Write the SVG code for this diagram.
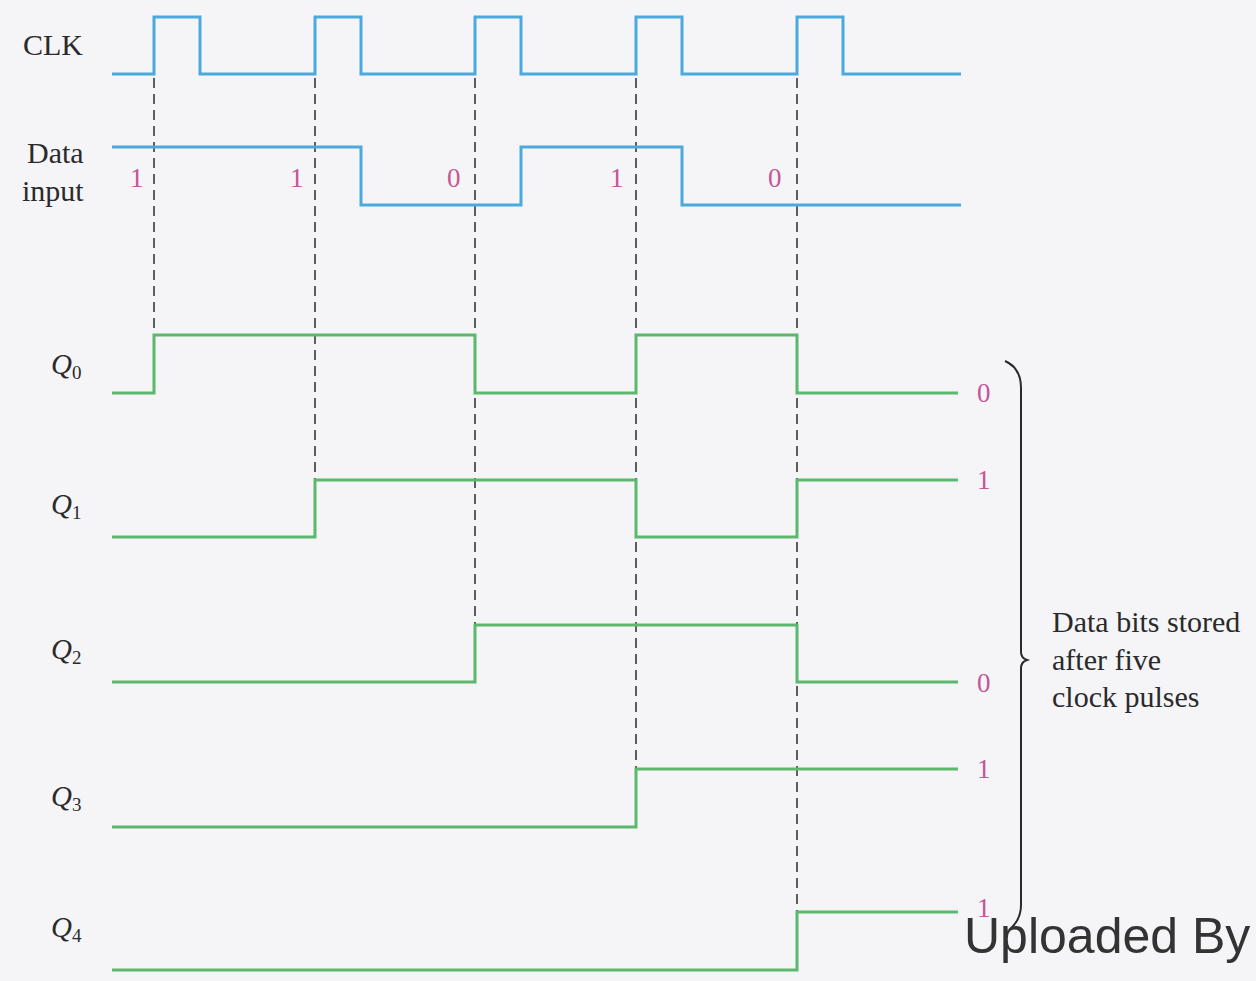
<svg xmlns="http://www.w3.org/2000/svg" width="1256" height="981" viewBox="0 0 1256 981">
<style>
.bg{fill:#f5f5f8}
.blue{fill:none;stroke:#4ba9dc;stroke-width:3;stroke-linejoin:miter}
.green{fill:none;stroke:#5cb86c;stroke-width:3;stroke-linejoin:miter}
.dash{fill:none;stroke:#3a3a3a;stroke-width:1.6;stroke-dasharray:10 6}
.lbl{font-family:"Liberation Serif",serif;font-size:30px;fill:#2a2a2a}
.q{font-family:"Liberation Serif",serif;font-size:29px;font-style:italic;fill:#2a2a2a}
.sub{font-size:19px;font-style:normal}
.bit{font-family:"Liberation Serif",serif;font-size:27px;fill:#c4569a}
.brace{fill:none;stroke:#2a2a2a;stroke-width:2}
.up{font-family:"Liberation Sans",sans-serif;font-size:50px;fill:#333333}
</style>
<rect class="bg" x="0" y="0" width="1256" height="981"/>
<g id="connectors">
<line class="dash" x1="154" y1="78" x2="154" y2="335"/>
<line class="dash" x1="315" y1="78" x2="315" y2="480"/>
<line class="dash" x1="475" y1="78" x2="475" y2="625"/>
<line class="dash" x1="636" y1="78" x2="636" y2="769"/>
<line class="dash" x1="797" y1="78" x2="797" y2="912"/>
</g>
<g id="clk">
<text class="lbl" x="23" y="55">CLK</text>
<path class="blue" d="M112 74H154V17H200V74H315V17H361V74H475V17H521V74H636V17H682V74H797V17H843V74H961"/>
</g>
<g id="data">
<text class="lbl" x="27" y="163">Data</text>
<text class="lbl" x="22" y="201">input</text>
<path class="blue" d="M112 147H361V205H521V147H682V205H961"/>
<text class="bit" x="130" y="187">1</text>
<text class="bit" x="290" y="187">1</text>
<text class="bit" x="447" y="187">0</text>
<text class="bit" x="610" y="187">1</text>
<text class="bit" x="768" y="187">0</text>
</g>
<g id="q0">
<text class="q" x="51" y="374">Q<tspan class="sub" dy="5">0</tspan></text>
<path class="green" d="M112 393H154V335H475V393H636V335H797V393H958"/>
<text class="bit" x="977" y="402">0</text>
</g>
<g id="q1">
<text class="q" x="51" y="514">Q<tspan class="sub" dy="5">1</tspan></text>
<path class="green" d="M112 537H315V480H636V537H797V480H958"/>
<text class="bit" x="977" y="489">1</text>
</g>
<g id="q2">
<text class="q" x="51" y="659">Q<tspan class="sub" dy="5">2</tspan></text>
<path class="green" d="M112 682H475V625H797V682H958"/>
<text class="bit" x="977" y="692">0</text>
</g>
<g id="q3">
<text class="q" x="51" y="806">Q<tspan class="sub" dy="5">3</tspan></text>
<path class="green" d="M112 827H636V769H958"/>
<text class="bit" x="977" y="778">1</text>
</g>
<g id="q4">
<text class="q" x="51" y="937">Q<tspan class="sub" dy="5">4</tspan></text>
<path class="green" d="M112 970H797V912H958"/>
<text class="bit" x="977" y="917">1</text>
</g>
<g id="brace">
<path class="brace" d="M1005 361Q1021 368 1021 388V652Q1021 658 1027 660Q1021 662 1021 668V905Q1021 920 1009 930"/>
<text class="lbl" x="1052" y="632">Data bits stored</text>
<text class="lbl" x="1052" y="670">after five</text>
<text class="lbl" x="1052" y="707">clock pulses</text>
</g>
<text class="up" x="964" y="953">Uploaded By</text>
</svg>
